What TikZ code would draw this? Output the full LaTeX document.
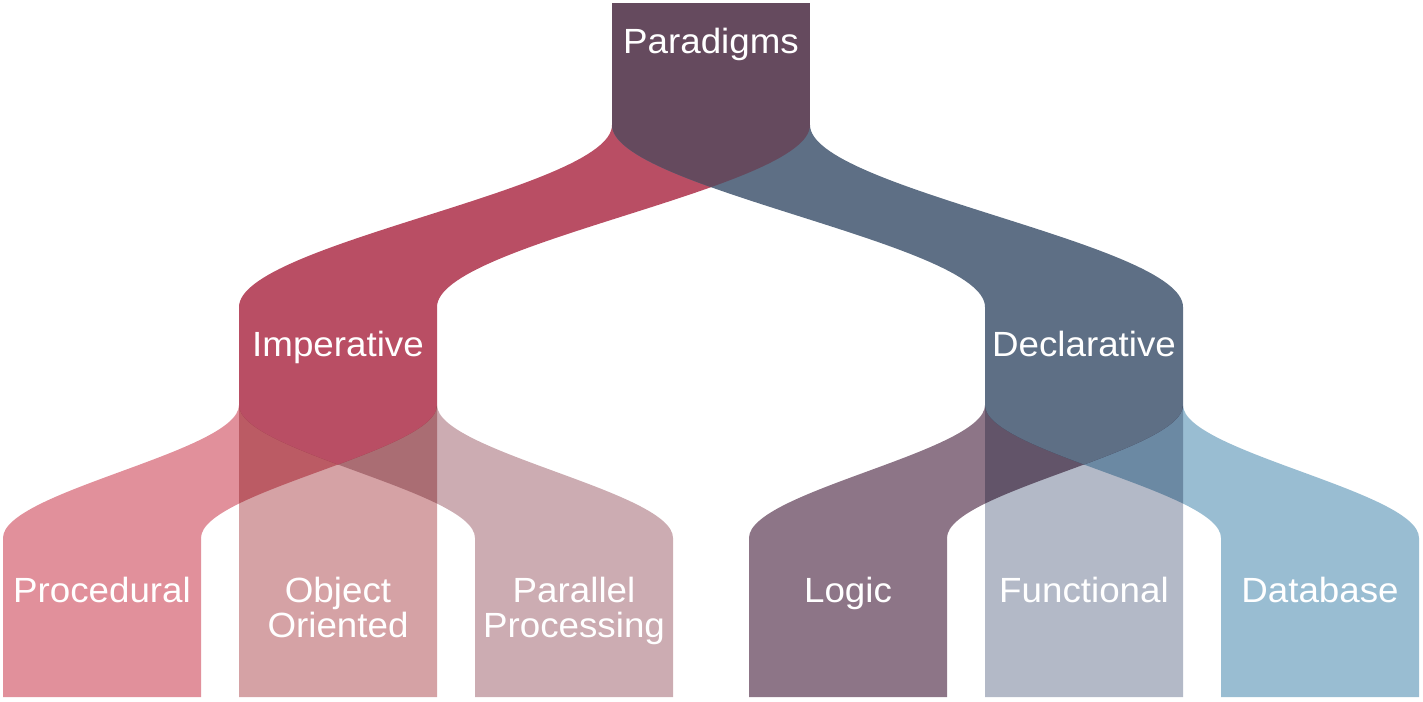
\documentclass[tikz,border=0pt]{standalone}
\usepackage{fontspec}
\setmainfont{Liberation Sans}[FakeStretch=1.05]
\usepackage{xcolor}
\usetikzlibrary{calc}

\definecolor{paraC}{HTML}{654A5E}
\definecolor{impC}{HTML}{B94E64}
\definecolor{declC}{HTML}{5E6F85}
\definecolor{procC}{HTML}{E1909B}
\definecolor{ooC}{HTML}{D5A2A5}
\definecolor{parC}{HTML}{CCACB2}
\definecolor{logicC}{HTML}{8D7587}
\definecolor{funcC}{HTML}{B3B9C7}
\definecolor{dbC}{HTML}{99BDD2}

% S-shaped edge of a band, from #1 to #2
\newcommand{\sflow}[2]{let \p1=(#1), \p2=(#2) in
  .. controls (\x1,{\y1+0.35*((\y2)-(\y1))}) and (\x2,{\y2-0.35*((\y2)-(\y1))}) .. (\p2)}
% band from parent #2 down to child #1
\newcommand{\ribbon}[3]{\fill[#3] (#1.south west) -- (#1.north west) \sflow{#1.north west}{#2.south west}
  -- (#2.south east) \sflow{#2.south east}{#1.north east} -- (#1.south east) -- cycle;}
% pointed bottom of parent #1, cut by the bands of #2 (left) and #3 (right)
\newcommand{\vbottom}[4]{\begin{scope}
  \clip (#1.south west) \sflow{#1.south west}{#3.north west} |- (#1.south west) -- cycle;
  \clip (#1.south east) \sflow{#1.south east}{#2.north east} |- (#1.south east) -- cycle;
  \fill[#4] (#1.south west) rectangle ([yshift=-150pt]#1.south east);
  \end{scope}}

\begin{document}
\begin{tikzpicture}[x=1pt,y=-1pt]
  \tikzstyle{col}=[rectangle, minimum width=198pt, inner sep=0pt, outer sep=0pt]
  \tikzstyle{lbl}=[text=white, font=\fontsize{35}{35}\selectfont, align=center, anchor=base, inner sep=0pt]
  \useasboundingbox (0,0) rectangle (1423,701);

  \node[col, minimum height=122pt] (para) at (711,64) {};
  \node[col, minimum height=98pt] (imp) at (338,356) {};
  \node[col, minimum height=98pt] (decl) at (1084,356) {};
  \node[col, minimum height=159pt] (proc) at (102,617.5) {};
  \node[col, minimum height=159pt] (oo) at (338,617.5) {};
  \node[col, minimum height=159pt] (par) at (574,617.5) {};
  \node[col, minimum height=159pt] (logic) at (848,617.5) {};
  \node[col, minimum height=159pt] (func) at (1084,617.5) {};
  \node[col, minimum height=159pt] (db) at (1320,617.5) {};

  % leaves
  \begin{scope}[blend mode=multiply]
    \ribbon{proc}{imp}{procC}
    \ribbon{oo}{imp}{ooC}
    \ribbon{par}{imp}{parC}
    \ribbon{logic}{decl}{logicC}
    \ribbon{func}{decl}{funcC}
    \ribbon{db}{decl}{dbC}
  \end{scope}

  % second level
  \ribbon{imp}{para}{impC}
  \ribbon{decl}{para}{declC}
  \vbottom{imp}{proc}{par}{impC}
  \vbottom{decl}{logic}{db}{declC}

  % root
  \fill[paraC] (para.north west) rectangle (para.south east);
  \vbottom{para}{imp}{decl}{paraC}

  \node[lbl] (tpara) at ($(para.north)+(0,50)$) {Paradigms};
  \node[lbl] (timp) at ($(imp.north)+(0,49)$) {Imperative};
  \node[lbl] (tdecl) at ($(decl.north)+(0,49)$) {Declarative};
  \node[lbl] (tproc) at ($(proc.north)+(0,64)$) {Procedural};
  \node[lbl] (too) at ($(oo.north)+(0,99)$) {Object\\Oriented};
  \node[lbl] (tpar) at ($(par.north)+(0,99)$) {Parallel\\Processing};
  \node[lbl] (tlogic) at ($(logic.north)+(0,64)$) {Logic};
  \node[lbl] (tfunc) at ($(func.north)+(0,64)$) {Functional};
  \node[lbl] (tdb) at ($(db.north)+(0,64)$) {Database};
\end{tikzpicture}
\end{document}
